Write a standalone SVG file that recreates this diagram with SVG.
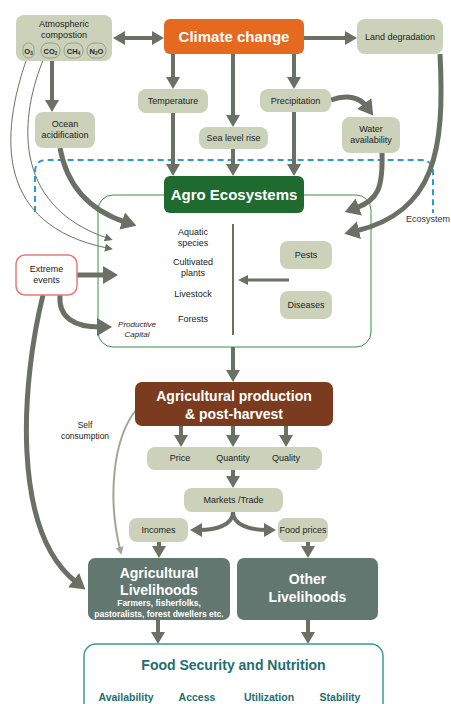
<svg xmlns="http://www.w3.org/2000/svg" width="451" height="704" viewBox="0 0 451 704">
<defs>
<style>
text{font-family:"Liberation Sans",Arial,sans-serif;}
.lb{fill:#cbd2b9;}
.t9{font-size:9px;fill:#222;text-anchor:middle;}
.ar{fill:none;stroke:#6b7064;stroke-width:4;}
.arT{fill:none;stroke:#6b7064;stroke-width:5;}
.thin{fill:none;stroke:#6b7064;stroke-width:1;}
.wb{fill:#fff;font-weight:bold;text-anchor:middle;}
.gas{fill:#cbd2b9;stroke:#8a8f82;stroke-width:0.8;}
.gt{font-size:7.5px;font-weight:bold;fill:#222;text-anchor:middle;}
</style>
<marker id="ah" markerUnits="userSpaceOnUse" markerWidth="16" markerHeight="16" refX="3" refY="7" orient="auto-start-reverse"><path d="M0,0 L12,7 L0,14 z" fill="#6b7064"/></marker>
<marker id="ahL" markerUnits="userSpaceOnUse" markerWidth="20" markerHeight="20" refX="3" refY="9" orient="auto"><path d="M0,0 L15,9 L0,18 z" fill="#6b7064"/></marker>
<marker id="ahS" markerUnits="userSpaceOnUse" markerWidth="10" markerHeight="10" refX="2" refY="4" orient="auto"><path d="M0,0 L8,4 L0,8 z" fill="#6b7064"/></marker>
<marker id="ahM" markerUnits="userSpaceOnUse" markerWidth="12" markerHeight="12" refX="2" refY="5" orient="auto"><path d="M0,0 L10,5 L0,10 z" fill="#6b7064"/></marker>
<marker id="ahG" markerUnits="userSpaceOnUse" markerWidth="10" markerHeight="10" refX="2" refY="4" orient="auto"><path d="M0,0 L8,4 L0,8 z" fill="#a3a59c"/></marker>
</defs>
<rect width="451" height="704" fill="#fff"/>

<g id="ecosystem-boundary">
<path d="M35,212 V172 Q35,160 47,160 H421 Q433,160 433,172 V213" fill="none" stroke="#2a9bd0" stroke-width="2" stroke-dasharray="6,4"/>
<text x="450" y="222" text-anchor="end" style="font-size:9px;fill:#333;">Ecosystem</text>
</g>
<g id="agro-container">
<rect x="98" y="195" width="273" height="152" rx="15" fill="none" stroke="#3e8e45" stroke-width="1"/>
</g>

<g id="connectors">
<path class="ar" d="M122,38 H155" marker-start="url(#ah)" marker-end="url(#ah)"/>
<path class="ar" d="M304,38 H348" marker-end="url(#ah)"/>
<path class="ar" d="M173,54 V80" marker-end="url(#ah)"/>
<path class="ar" d="M233,54 V118" marker-end="url(#ah)"/>
<path class="ar" d="M294,54 V80" marker-end="url(#ah)"/>
<path class="ar" d="M173,113 V167" marker-end="url(#ah)"/>
<path class="ar" d="M233,149 V167" marker-end="url(#ah)"/>
<path class="ar" d="M294,112 V167" marker-end="url(#ah)"/>
<path class="ar" d="M52,61 V103" marker-end="url(#ah)"/>
<path class="arT" d="M60,148 C68,192 95,212 125,222" marker-end="url(#ahL)"/>
<path class="thin" d="M44,58 C20,115 10,205 107,238" marker-end="url(#ahS)"/>
<path class="thin" d="M27,58 C0,135 -5,225 107,248" marker-end="url(#ahS)"/>
<path class="arT" d="M331,100 C348,94 360,98 366,106" marker-end="url(#ahL)"/>
<path class="arT" d="M382,153 C383,188 378,200 356,208" marker-end="url(#ahL)"/>
<path class="arT" d="M440,54 C445,150 435,212 356,231" marker-end="url(#ahL)"/>
<path class="arT" d="M77,275 H106" marker-end="url(#ahL)"/>
<path class="arT" d="M60,295 C58,318 75,327 100,327" marker-end="url(#ahL)"/>
<path class="arT" d="M43,295 C22,380 10,530 76,582" marker-end="url(#ahL)"/>
<path fill="none" stroke="#6b7064" stroke-width="2" d="M233,224 V335"/>
<path fill="none" stroke="#6b7064" stroke-width="3" d="M289,280 H246" marker-end="url(#ahM)"/>
<path class="ar" d="M233,347 V373" marker-end="url(#ah)"/>
<path class="ar" d="M181,426 V438" marker-end="url(#ah)"/>
<path class="ar" d="M233,426 V438" marker-end="url(#ah)"/>
<path class="ar" d="M286,426 V438" marker-end="url(#ah)"/>
<path class="ar" d="M233,470 V479" marker-end="url(#ah)"/>
<path class="ar" d="M233,512 C233,525 216,530 199,530" marker-end="url(#ah)"/>
<path class="ar" d="M233,512 C233,525 250,530 267,530" marker-end="url(#ah)"/>
<path class="ar" d="M159,542 V549" marker-end="url(#ah)"/>
<path class="ar" d="M308,542 V549" marker-end="url(#ah)"/>
<path class="ar" d="M158,620 V635" marker-end="url(#ah)"/>
<path class="ar" d="M308,620 V635" marker-end="url(#ah)"/>
<path fill="none" stroke="#a3a59c" stroke-width="2" d="M136,410 C112,440 108,500 120,549" marker-end="url(#ahG)"/>
</g>

<g id="atmospheric">
<rect class="lb" x="16" y="15" width="96" height="46" rx="8"/>
<text class="t9" x="64" y="27">Atmospheric</text>
<text class="t9" x="64" y="38">compostion</text>
<rect class="gas" x="23" y="43" width="11" height="15" rx="5.5"/>
<text class="gt" x="28.5" y="53.5">O<tspan font-size="4.5" dy="1.5">3</tspan></text>
<rect class="gas" x="41" y="43" width="19" height="15" rx="7"/>
<text class="gt" x="50.5" y="53.5">CO<tspan font-size="4.5" dy="1.5">2</tspan></text>
<rect class="gas" x="64" y="43" width="19" height="15" rx="7"/>
<text class="gt" x="73.5" y="53.5">CH<tspan font-size="4.5" dy="1.5">4</tspan></text>
<rect class="gas" x="87" y="43" width="19" height="15" rx="7"/>
<text class="gt" x="96.5" y="53.5">N<tspan font-size="4.5" dy="1.5">2</tspan><tspan dy="-1.5">O</tspan></text>
</g>

<g id="climate-change">
<rect x="164" y="19" width="140" height="35" rx="6" fill="#e5691f"/>
<text class="wb" x="234" y="42" font-size="15">Climate change</text>
</g>
<g id="land-degradation">
<rect class="lb" x="357" y="19" width="86" height="35" rx="8"/>
<text class="t9" x="400" y="40">Land degradation</text>
</g>
<g id="temperature">
<rect class="lb" x="138" y="89" width="70" height="24" rx="8"/>
<text class="t9" x="173" y="104">Temperature</text>
</g>
<g id="precipitation">
<rect class="lb" x="260" y="89" width="71" height="23" rx="8"/>
<text class="t9" x="295.5" y="104">Precipitation</text>
</g>
<g id="sea-level-rise">
<rect class="lb" x="199" y="127" width="69" height="22" rx="8"/>
<text class="t9" x="233.5" y="141">Sea level rise</text>
</g>
<g id="ocean-acidification">
<rect class="lb" x="35" y="112" width="60" height="36" rx="8"/>
<text class="t9" x="65" y="127">Ocean</text>
<text class="t9" x="65" y="138">acidification</text>
</g>
<g id="water-availability">
<rect class="lb" x="342" y="117" width="58" height="36" rx="8"/>
<text class="t9" x="371" y="132">Water</text>
<text class="t9" x="371" y="143">availability</text>
</g>
<g id="agro-ecosystems">
<rect x="164" y="176" width="140" height="37" rx="6" fill="#1f6b2f"/>
<text class="wb" x="234" y="200" font-size="15">Agro Ecosystems</text>
</g>
<g id="agro-items">
<text class="t9" x="193" y="235">Aquatic</text>
<text class="t9" x="193" y="246">species</text>
<text class="t9" x="193" y="265">Cultivated</text>
<text class="t9" x="193" y="276">plants</text>
<text class="t9" x="193" y="297">Livestock</text>
<text class="t9" x="193" y="322">Forests</text>
</g>
<g id="pests">
<rect class="lb" x="280" y="241" width="52" height="28" rx="8"/>
<text class="t9" x="306" y="258">Pests</text>
</g>
<g id="diseases">
<rect class="lb" x="280" y="291" width="52" height="28" rx="8"/>
<text class="t9" x="306" y="308">Diseases</text>
</g>
<g id="extreme-events">
<rect x="16" y="255" width="61" height="40" rx="9" fill="#fff" stroke="#e87a7a" stroke-width="1.5"/>
<text class="t9" x="46.5" y="272">Extreme</text>
<text class="t9" x="46.5" y="283">events</text>
</g>
<g id="productive-capital">
<text class="t9" x="137" y="327" font-style="italic" style="font-size:8px">Productive</text>
<text class="t9" x="137" y="337" font-style="italic" style="font-size:8px">Capital</text>
</g>
<g id="agricultural-production">
<rect x="135" y="382" width="198" height="44" rx="7" fill="#7b3b1e"/>
<text class="wb" x="234" y="401" font-size="14">Agricultural production</text>
<text class="wb" x="234" y="419" font-size="14">&amp; post-harvest</text>
</g>
<g id="self-consumption">
<text class="t9" x="85" y="428" style="font-size:8.5px">Self</text>
<text class="t9" x="85" y="439" style="font-size:8.5px">consumption</text>
</g>
<g id="price-quantity-quality">
<rect class="lb" x="147" y="447" width="175" height="23" rx="8"/>
<text class="t9" x="180" y="461">Price</text>
<text class="t9" x="233" y="461">Quantity</text>
<text class="t9" x="286" y="461">Quality</text>
</g>
<g id="markets-trade">
<rect class="lb" x="184" y="488" width="99" height="24" rx="8"/>
<text class="t9" x="233.5" y="503">Markets /Trade</text>
</g>
<g id="incomes">
<rect class="lb" x="129" y="518" width="59" height="24" rx="8"/>
<text class="t9" x="158.5" y="533">Incomes</text>
</g>
<g id="food-prices">
<rect class="lb" x="278" y="518" width="50" height="24" rx="8"/>
<text class="t9" x="303" y="533">Food prices</text>
</g>
<g id="agricultural-livelihoods">
<rect x="88" y="558" width="142" height="62" rx="7" fill="#61776f"/>
<text class="wb" x="159" y="578" font-size="14">Agricultural</text>
<text class="wb" x="159" y="595" font-size="14">Livelihoods</text>
<text class="wb" x="159" y="606" font-size="8.5">Farmers, fisherfolks,</text>
<text class="wb" x="159" y="617" font-size="8.5">pastoralists, forest dwellers etc.</text>
</g>
<g id="other-livelihoods">
<rect x="237" y="558" width="141" height="62" rx="7" fill="#61776f"/>
<text class="wb" x="307.5" y="584" font-size="14">Other</text>
<text class="wb" x="307.5" y="602" font-size="14">Livelihoods</text>
</g>
<g id="food-security">
<rect x="84" y="644" width="299" height="80" rx="12" fill="#fff" stroke="#3a9a9a" stroke-width="1.5"/>
<text x="233.5" y="670" text-anchor="middle" font-size="14" font-weight="bold" fill="#1e6e6e">Food Security and Nutrition</text>
<text x="126" y="701" text-anchor="middle" font-size="10.5" font-weight="bold" fill="#1e6e6e">Availability</text>
<text x="197" y="701" text-anchor="middle" font-size="10.5" font-weight="bold" fill="#1e6e6e">Access</text>
<text x="269" y="701" text-anchor="middle" font-size="10.5" font-weight="bold" fill="#1e6e6e">Utilization</text>
<text x="340" y="701" text-anchor="middle" font-size="10.5" font-weight="bold" fill="#1e6e6e">Stability</text>
</g>
</svg>
